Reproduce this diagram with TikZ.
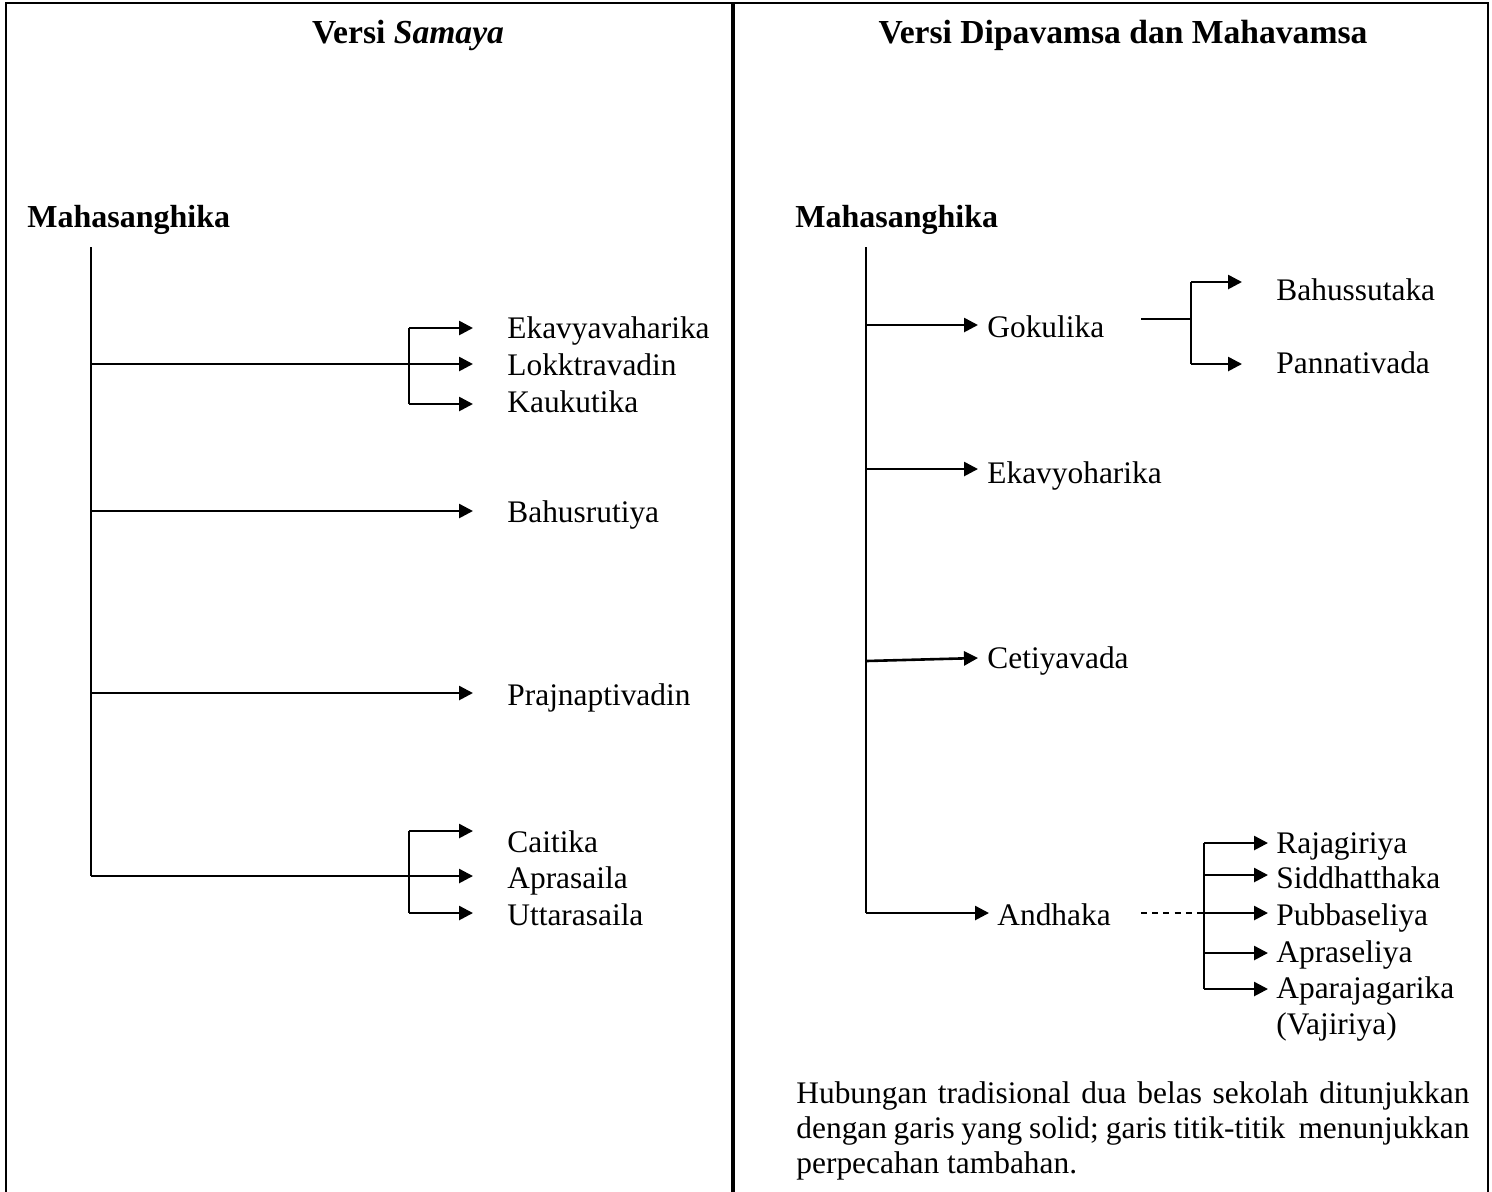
\documentclass[tikz,border=0pt]{standalone}
\usepackage{fontspec}
\setmainfont{Liberation Serif}
\usetikzlibrary{arrows.meta}
\begin{document}
\begin{tikzpicture}[x=0.5pt,y=-0.5pt,
  lbl/.style={anchor=base west, inner sep=0pt, font=\fontsize{15.7}{18}\selectfont},
  ttl/.style={anchor=base, inner sep=0pt, font=\fontsize{16.8}{19}\selectfont\bfseries},
  root/.style={anchor=base west, inner sep=0pt, font=\fontsize{16}{18}\selectfont\bfseries},
  trunk/.style={line width=0.9pt},
  br/.style={line width=1.3pt},
  arr/.style={line width=1.3pt, -{Triangle[length=7pt,width=7pt]}},
  dsh/.style={line width=0.8pt, dash pattern=on 3pt off 2.6pt},
]
\useasboundingbox (0,0) rectangle (1492,1191);
\fill[white] (0,0) rectangle (1492,1191);
% frame
\draw[line width=1.2pt] (6,1192) -- (6,3) -- (1488,3) -- (1488,1192);
\draw[line width=2.4pt] (733,3) -- (733,1192);

% ===== Left panel =====
\node[ttl] (tL) at (408,43) {Versi \textit{Samaya}};
\node[root] (mL) at (27,227) {Mahasanghika};

\node[lbl] (eka) at (507,338) {Ekavyavaharika};
\node[lbl] (lok) at (507,375) {Lokktravadin};
\node[lbl] (kau) at (507,412) {Kaukutika};
\node[lbl] (bah) at (507,522) {Bahusrutiya};
\node[lbl] (pra) at (507,705) {Prajnaptivadin};
\node[lbl] (cai) at (507,852) {Caitika};
\node[lbl] (apr) at (507,888) {Aprasaila};
\node[lbl] (utt) at (507,925) {Uttarasaila};

\coordinate (L0) at (91,247);
\coordinate (L1) at (91,364);
\coordinate (L2) at (91,511);
\coordinate (L3) at (91,693);
\coordinate (L4) at (91,876);
\draw[trunk] (L0) -- (L4);

% group 1
\coordinate (B1t) at (409,328);
\coordinate (B1m) at (409,364);
\coordinate (B1b) at (409,404);
\coordinate (B1s) at (344,364);
\coordinate (ekaT) at (473,328);
\coordinate (lokT) at (473,364);
\coordinate (kauT) at (473,404);
\draw[trunk] (L1) -- (B1m);
\draw[arr] (B1s) -- (lokT);
\draw[br] (B1t) -- (B1b);
\draw[arr] (B1t) -- (ekaT);
\draw[arr] (B1b) -- (kauT);

\coordinate (bahT) at (473,511);
\draw[arr] (L2) -- (bahT);
\coordinate (praT) at (473,693);
\draw[arr] (L3) -- (praT);

% group 2
\coordinate (B2t) at (409,831);
\coordinate (B2m) at (409,876);
\coordinate (B2b) at (409,913);
\coordinate (B2s) at (344,876);
\coordinate (caiT) at (473,831);
\coordinate (aprT) at (473,876);
\coordinate (uttT) at (473,913);
\draw[trunk] (L4) -- (B2m);
\draw[arr] (B2s) -- (aprT);
\draw[br] (B2t) -- (B2b);
\draw[arr] (B2t) -- (caiT);
\draw[arr] (B2b) -- (uttT);

% ===== Right panel =====
\node[ttl] (tR) at (1123,43) {Versi Dipavamsa dan Mahavamsa};
\node[root] (mR) at (795,227) {Mahasanghika};

\node[lbl] (gok) at (987,337) {Gokulika};
\node[lbl] (bhs) at (1276,300) {Bahussutaka};
\node[lbl] (pan) at (1276,373) {Pannativada};
\node[lbl] (eky) at (987,483) {Ekavyoharika};
\node[lbl] (cet) at (987,668) {Cetiyavada};
\node[lbl] (and) at (997,925) {Andhaka};
\node[lbl] (raj) at (1276,853) {Rajagiriya};
\node[lbl] (sid) at (1276,888) {Siddhatthaka};
\node[lbl] (pub) at (1276,925) {Pubbaseliya};
\node[lbl] (aps) at (1276,962) {Apraseliya};
\node[lbl, text width=120pt, align=left] (apa) at (1276,998) {Aparajagarika\\(Vajiriya)};

\coordinate (R0) at (866,247);
\coordinate (R1) at (866,325);
\coordinate (R2) at (866,469);
\coordinate (R3) at (866,661);
\coordinate (R4) at (866,913);
\draw[trunk] (R0) -- (R4);

\coordinate (gokT) at (978,325);
\coordinate (ekyT) at (978,469);
\coordinate (cetT) at (978,658);
\coordinate (andT) at (989,913);
\draw[arr] (R1) -- (gokT);
\draw[arr] (R2) -- (ekyT);
\draw[arr] (R3) -- (cetT);
\draw[arr] (R4) -- (andT);

% Gokulika split
\coordinate (G0) at (1141,319);
\coordinate (G1) at (1191,319);
\coordinate (Gt) at (1191,282);
\coordinate (Gb) at (1191,364);
\coordinate (bhsT) at (1242,282);
\coordinate (panT) at (1242,364);
\draw[br] (G0) -- (G1);
\draw[br] (Gt) -- (Gb);
\draw[arr] (Gt) -- (bhsT);
\draw[arr] (Gb) -- (panT);

% Andhaka split (dashed)
\coordinate (D0) at (1141,913);
\coordinate (D1) at (1204,913);
\draw[dsh] (D0) -- (D1);
\coordinate (At) at (1204,843);
\coordinate (Ab) at (1204,989);
\draw[br] (At) -- (Ab);
\coordinate (As) at (1204,875);
\coordinate (Aa) at (1204,953);
\coordinate (rajT) at (1268,843);
\coordinate (sidT) at (1268,875);
\coordinate (pubT) at (1268,913);
\coordinate (apsT) at (1268,953);
\coordinate (apaT) at (1268,989);
\draw[arr] (At) -- (rajT);
\draw[arr] (As) -- (sidT);
\draw[arr] (D1) -- (pubT);
\draw[arr] (Aa) -- (apsT);
\draw[arr] (Ab) -- (apaT);

% note
\node[anchor=base west, inner sep=0pt, text width=336.5pt, align=justify,
  font=\fontsize{15.7}{17.5}\selectfont] (note) at (796,1103)
  {\hyphenpenalty=10000 Hubungan tradisional dua belas sekolah ditunjukkan\linebreak
   dengan garis yang solid; garis titik-titik \ menunjukkan\linebreak
   perpecahan tambahan.};
\end{tikzpicture}
\end{document}
